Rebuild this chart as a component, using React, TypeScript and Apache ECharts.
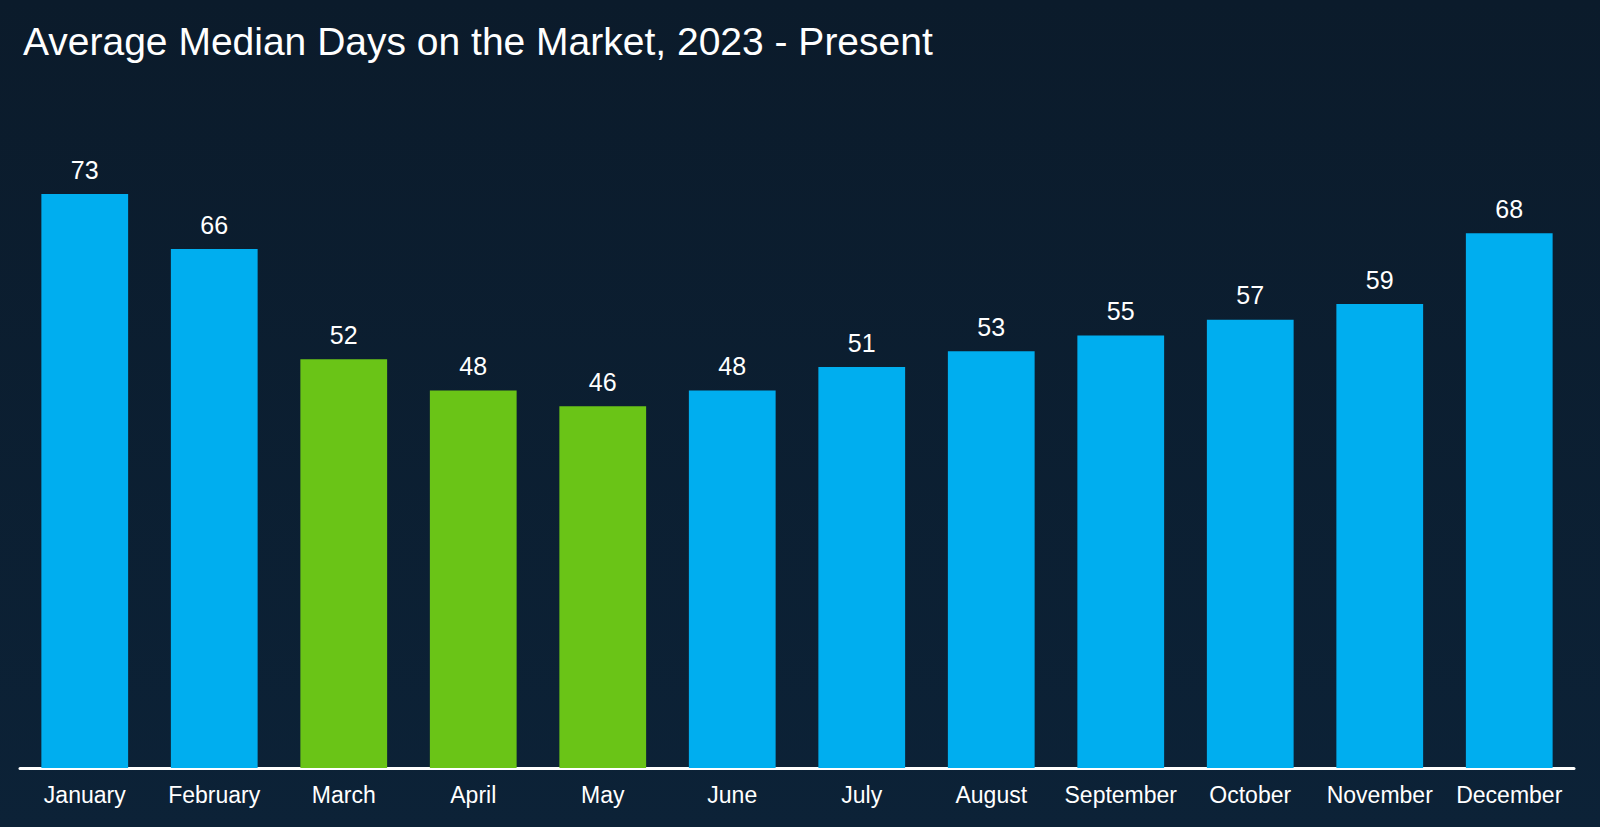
import React, { useEffect, useRef } from "react";
import * as echarts from "echarts";

const months = ["January", "February", "March", "April", "May", "June", "July", "August", "September", "October", "November", "December"];
const days = [73, 66, 52, 48, 46, 48, 51, 53, 55, 57, 59, 68];
const highlighted = ["March", "April", "May"];
const titleText = "Average Median Days on the Market, 2023 - Present";

export default function App() {
  const ref = useRef<HTMLDivElement>(null);
  useEffect(() => {
    if (!ref.current) return;
    const chart = echarts.init(ref.current, null, { renderer: "svg" });
    chart.setOption({
      animation: false,
      backgroundColor: {
        type: "linear", x: 0, y: 0, x2: 0, y2: 1,
        colorStops: [
          { offset: 0, color: "#0b1b2b" },
          { offset: 1, color: "#0c2237" },
        ],
      },
      title: {
        text: titleText,
        left: 18,
        top: 17,
        textStyle: { color: "#ffffff", fontFamily: "Liberation Sans, Arial, sans-serif", fontSize: 39, fontWeight: "normal" },
      },
      grid: { left: 20, right: 26, top: 139, bottom: 59 },
      xAxis: {
        type: "category",
        data: months,
        axisLine: { lineStyle: { color: "#ffffff", width: 3 } },
        axisTick: { show: false },
        axisLabel: { color: "#ffffff", fontSize: 23, margin: 15, fontFamily: "Liberation Sans, Arial, sans-serif", interval: 0 },
      },
      yAxis: {
        type: "value",
        min: 0,
        max: 80,
        show: false,
        splitLine: { show: false },
      },
      series: [
        {
          type: "bar",
          barCategoryGap: "33%",
          data: days.map((v, i) => ({
            value: v,
            itemStyle: { color: highlighted.includes(months[i]) ? "#6ac417" : "#00aeef" },
          })),
          label: {
            show: true,
            position: "top",
            distance: 12,
            color: "#ffffff",
            fontSize: 25,
            fontFamily: "Liberation Sans, Arial, sans-serif",
          },
        },
      ],
    });
    return () => chart.dispose();
  }, []);
  return <div ref={ref} style={{ position: "fixed", left: 0, top: 0, width: 1600, height: 827 }} />;
}
